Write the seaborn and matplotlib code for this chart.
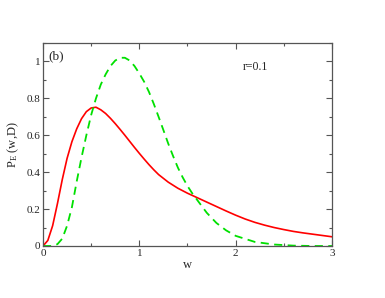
import pandas as pd
import seaborn as sns
import matplotlib
matplotlib.use("Agg")
import matplotlib.pyplot as plt
from matplotlib.ticker import MultipleLocator

# values
w_red = [0.0, 0.05, 0.1, 0.15, 0.2, 0.25, 0.3, 0.35, 0.4, 0.45, 0.5, 0.55, 0.6,
         0.65, 0.7, 0.75, 0.8, 0.85, 0.9, 0.95, 1.0, 1.05, 1.1, 1.15, 1.2, 1.3,
         1.4, 1.5, 1.6, 1.7, 1.8, 1.9, 2.0, 2.1, 2.2, 2.3, 2.4, 2.5, 2.6, 2.7,
         2.8, 2.9, 3.0]
p_red = [0.0, 0.03, 0.11, 0.23, 0.36, 0.475, 0.565, 0.635, 0.69, 0.728, 0.748, 0.752, 0.738,
         0.718, 0.692, 0.663, 0.632, 0.6, 0.567, 0.534, 0.502, 0.471, 0.441, 0.413, 0.387, 0.346,
         0.313, 0.286, 0.262, 0.238, 0.214, 0.19, 0.167, 0.146, 0.128, 0.113, 0.1, 0.089, 0.079, 0.071,
         0.064, 0.057, 0.05]

w_green = [0.0, 0.1, 0.15, 0.2, 0.25, 0.3, 0.35, 0.4, 0.45, 0.5, 0.55, 0.6, 0.65,
           0.7, 0.75, 0.8, 0.85, 0.9, 0.95, 1.0, 1.05, 1.1, 1.15, 1.2, 1.25, 1.3,
           1.35, 1.4, 1.45, 1.5, 1.55, 1.6, 1.7, 1.8, 1.9, 2.0, 2.2, 2.4, 2.6,
           2.8, 3.0]
p_green = [0.0, 0.0, 0.01, 0.04, 0.11, 0.21, 0.35, 0.48, 0.60, 0.71, 0.80, 0.875, 0.93,
           0.975, 1.005, 1.02, 1.02, 1.005, 0.975, 0.935, 0.89, 0.835, 0.77, 0.70, 0.628, 0.555,
           0.488, 0.425, 0.372, 0.325, 0.285, 0.25, 0.18, 0.125, 0.085, 0.055, 0.022, 0.008, 0.002,
           0.0, 0.0]

sns.set_theme(style="ticks")
plt.rcParams["font.family"] = ["Liberation Serif", "DejaVu Serif"]
plt.rcParams["mathtext.fontset"] = "custom"
plt.rcParams["mathtext.rm"] = "Liberation Serif"
plt.rcParams["mathtext.it"] = "Liberation Serif:italic"

df_red = pd.DataFrame({"w": w_red, "p": p_red})
df_green = pd.DataFrame({"w": w_green, "p": p_green})

fig = plt.figure(figsize=(3.85, 2.98), dpi=100)
ax = fig.add_axes([0.1117, 0.1745, 0.7506, 0.6812])

sns.lineplot(data=df_red, x="w", y="p", ax=ax, color="#ff0000", linewidth=1.2)
sns.lineplot(data=df_green, x="w", y="p", ax=ax, color="#00e000", linewidth=1.3)
ax.lines[-1].set_dashes([4.5, 3])

ax.set_xlim(0, 3)
ax.set_ylim(0, 1.1)
ax.xaxis.set_minor_locator(MultipleLocator(0.5))
ax.yaxis.set_minor_locator(MultipleLocator(0.1))
ax.set_yticks([0, 0.2, 0.4, 0.6, 0.8, 1.0])
ax.set_yticklabels(["0", "0.2", "0.4", "0.6", "0.8", "1"])
ax.set_xticks([0, 1, 2, 3])
ax.set_xticklabels(["0", "1", "2", "3"])
ax.tick_params(which="both", direction="in", top=True, right=True,
               labelsize=8, color="#555555", pad=2)
ax.tick_params(which="major", length=4.5, width=0.8)
ax.tick_params(which="minor", length=2.5, width=0.8)
for s in ax.spines.values():
    s.set_color("#555555")
    s.set_linewidth(0.9)

ax.set_xlabel("w", fontsize=9, labelpad=1)
ax.set_ylabel(r"P$_\mathrm{E}$ (w,D)", fontsize=9, labelpad=4)
ax.text(0.02, 0.965, "(b)", transform=ax.transAxes, fontsize=9.5, va="top", ha="left")
ax.text(0.69, 0.88, "r=0.1", transform=ax.transAxes, fontsize=8.5, va="center", ha="left")

fig.savefig("out.png", dpi=100)
